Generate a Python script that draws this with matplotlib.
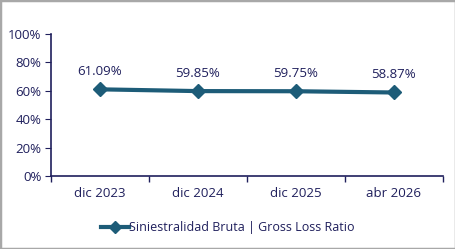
import matplotlib
matplotlib.use("Agg")
import matplotlib.pyplot as plt
from matplotlib.patches import Rectangle
from matplotlib.ticker import PercentFormatter

categories = ["dic 2023", "dic 2024", "dic 2025", "abr 2026"]
values = [61.09, 59.85, 59.75, 58.87]
series_name = "Siniestralidad Bruta | Gross Loss Ratio"

text_color = "#1f1f5c"
line_color = "#1d5c78"
plt.rcParams['font.family'] = ['Open Sans', 'DejaVu Sans']

fig = plt.figure(figsize=(4.56, 2.49), dpi=100)
ax = fig.add_axes([0.112, 0.293, 0.859, 0.57])

x = list(range(1, len(categories) + 1))
ax.plot(x, values, color=line_color, lw=3, marker="D", ms=7, label=series_name)
for xi, v in zip(x, values):
    ax.annotate(f"{v:.2f}%", (xi, v), xytext=(0, 8), textcoords="offset points",
                ha="center", va="bottom", fontsize=9.5, color=text_color)

ax.set_xlim(0.5, len(categories) + 0.5)
ax.set_ylim(0, 100)
ax.set_yticks(range(0, 101, 20))
ax.yaxis.set_major_formatter(PercentFormatter(decimals=0))
ax.set_xticks([i + 0.5 for i in range(len(categories) + 1)])
ax.set_xticklabels([])
ax.set_xticks(x, minor=True)
ax.set_xticklabels(categories, minor=True)
ax.tick_params(axis="x", which="minor", length=0, pad=8, labelsize=9.5, labelcolor=text_color)
ax.tick_params(axis="x", which="major", length=4, color=text_color, width=1)
ax.tick_params(axis="y", length=4, color=text_color, labelsize=9.5, labelcolor=text_color, pad=3)
for s in ["top", "right"]:
    ax.spines[s].set_visible(False)
for s in ["left", "bottom"]:
    ax.spines[s].set_color(text_color)
    ax.spines[s].set_linewidth(1.2)

leg = fig.legend(loc="center", bbox_to_anchor=(0.5, 0.085), frameon=False,
                 fontsize=9, handlelength=2.2, handletextpad=0.05, markerscale=0.85)
for t in leg.get_texts():
    t.set_color(text_color)

fig.patches.append(Rectangle((0, 0), 1, 1, transform=fig.transFigure, fill=False,
                             edgecolor="#a8a8a8", lw=2.5, zorder=10))
fig.savefig("out.png", dpi=100)
